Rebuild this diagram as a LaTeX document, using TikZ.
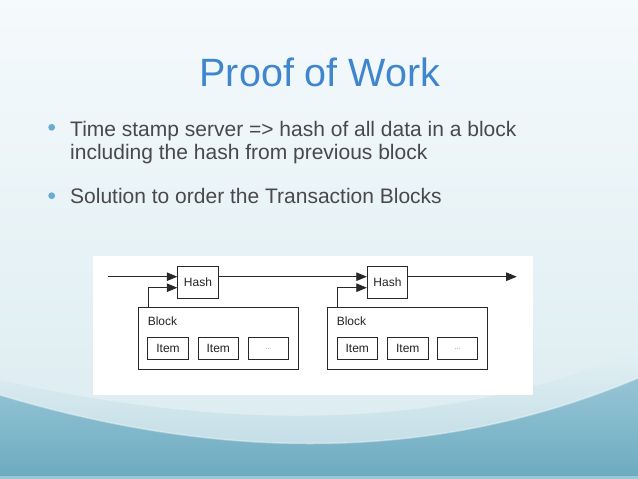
\documentclass[tikz,border=0pt]{standalone}
\usepackage{fontspec}
\setmainfont{Liberation Sans}
\usetikzlibrary{arrows.meta,calc}
\definecolor{titleblue}{RGB}{64,134,206}
\definecolor{bodygray}{RGB}{72,72,78}
\definecolor{dotblue}{RGB}{104,172,210}
\definecolor{linec}{RGB}{40,40,40}
\definecolor{diagtext}{RGB}{35,35,35}
\definecolor{bgtop}{RGB}{245,250,252}
\definecolor{bgmid}{RGB}{240,247,250}
\definecolor{bgbot}{RGB}{218,235,240}
\definecolor{swlighttop}{RGB}{226,240,244}
\definecolor{swlightbot}{RGB}{186,215,225}
\definecolor{swmid}{RGB}{150,197,213}
\definecolor{swdark}{RGB}{108,170,192}
\definecolor{stripc}{RGB}{150,200,214}
\tikzset{
  titletext/.style={font=\fontsize{39.5}{46}\selectfont, text=titleblue, inner sep=0pt},
  bodytext/.style={font=\fontsize{21}{24}\selectfont, text=bodygray, inner sep=0pt},
  hashbox/.style={draw=linec, line width=0.8pt, minimum width=40.6pt, minimum height=31.6pt, inner sep=0pt, font=\fontsize{12}{14}\selectfont, text=diagtext},
  blockbox/.style={draw=linec, line width=0.8pt, minimum width=160pt, minimum height=61.7pt, inner sep=0pt},
  itembox/.style={draw=linec, line width=0.8pt, minimum width=40.6pt, minimum height=21.7pt, inner sep=0pt, font=\fontsize{12}{14}\selectfont, text=diagtext},
  dotsbox/.style={itembox, font=\fontsize{7}{8}\selectfont, text=gray},
  blocklabel/.style={anchor=west, inner sep=0pt, font=\fontsize{12}{14}\selectfont, text=diagtext},
  arr/.style={draw=linec, line width=0.8pt, -{Triangle[length=10.5pt,width=8.5pt]}},
}
\begin{document}
\begin{tikzpicture}[x=1pt,y=-1pt]
\useasboundingbox (0,0) rectangle (638,479);
% background
\shade[top color=bgtop, middle color=bgmid, bottom color=bgbot] (0,0) rectangle (638,479);
\shade[top color=swlighttop, bottom color=swlightbot] (0,380) .. controls (200,425) and (430,440) .. (638,350) -- (638,479) -- (0,479) -- cycle;
\shade[top color=swmid, bottom color=swdark] (0,395) .. controls (200,455) and (420,470) .. (638,378) -- (638,479) -- (0,479) -- cycle;
\draw[white, opacity=0.4, line width=1.5pt] (0,395) .. controls (200,455) and (420,470) .. (638,378);
\fill[stripc] (0,476) rectangle (638,479);
% title and bullets
\node[titletext, anchor=base] (title) at (320,86.7) {Proof of Work};
\fill[dotblue] (51.7,127.3) circle[radius=3.4];
\fill[dotblue] (51.7,195.7) circle[radius=3.4];
\node[bodytext, anchor=base west] (b1a) at (70,136) {Time stamp server => hash of all data in a block};
\node[bodytext, anchor=base west] (b1b) at (70,159.5) {including the hash from previous block};
\node[bodytext, anchor=base west] (b2) at (70,203.5) {Solution to order the Transaction Blocks};
% diagram panel
\fill[white] (93,256) rectangle (533,395);
\node[hashbox] (hash1) at (198,282.5) {Hash};
\node[hashbox] (hash2) at (387.5,282.5) {Hash};
\node[blockbox] (block1) at (218.3,338.2) {};
\node[blockbox] (block2) at (407.3,338.2) {};
\node[blocklabel] (bl1) at ([xshift=9.7pt,yshift=-14.4pt]block1.north west) {Block};
\node[blocklabel] (bl2) at ([xshift=9.7pt,yshift=-14.4pt]block2.north west) {Block};
\node[itembox] (i11) at (168,348.2) {Item};
\node[itembox] (i12) at (218.3,348.2) {Item};
\node[dotsbox] (i13) at (268.3,348.2) {\raisebox{-3pt}{...}};
\node[itembox] (i21) at (357.3,348.2) {Item};
\node[itembox] (i22) at (407.8,348.2) {Item};
\node[dotsbox] (i23) at (457.5,348.2) {\raisebox{-3pt}{...}};
\coordinate (start) at (108.3,276.7);
\coordinate (finish) at (516.7,276.7);
\draw[arr] (start) -- ([yshift=5.8pt]hash1.west);
\draw[arr] ([yshift=5.8pt]hash1.east) -- ([yshift=5.8pt]hash2.west);
\draw[arr] ([yshift=5.8pt]hash2.east) -- (finish);
\draw[arr] ([xshift=10pt]block1.north west) |- ([yshift=-5.2pt]hash1.west);
\draw[arr] ([xshift=10pt]block2.north west) |- ([yshift=-5.2pt]hash2.west);
\end{tikzpicture}
\end{document}
